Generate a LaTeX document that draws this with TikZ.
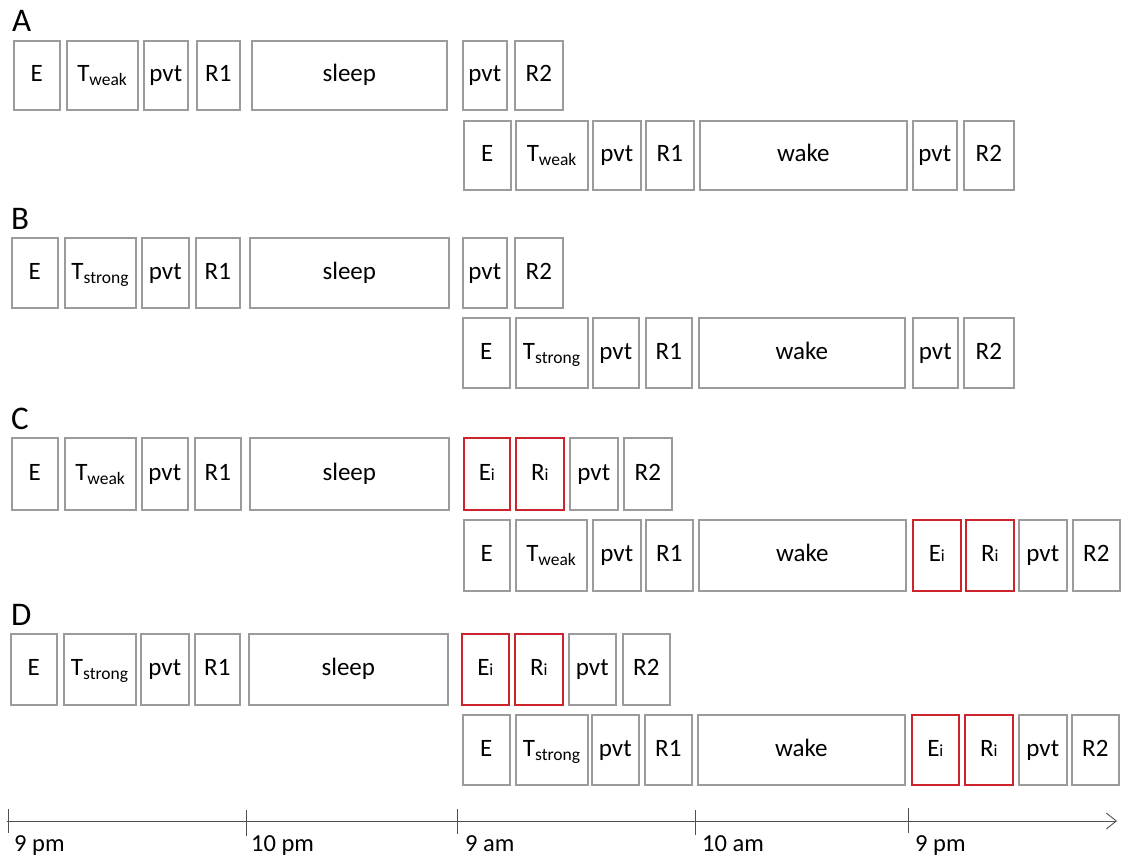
\documentclass[tikz,border=0pt]{standalone}
\usepackage{fontspec}
\setmainfont{Carlito}
\usepackage{tikz}
\usetikzlibrary{arrows.meta}

\definecolor{boxgray}{RGB}{155,155,155}
\definecolor{boxred}{RGB}{205,35,45}
\definecolor{axisgray}{RGB}{80,80,80}

\newcommand{\ii}{{\fontsize{17}{20}\selectfont i}}

\begin{document}
\begin{tikzpicture}[
  x=1pt, y=-1pt,
  blk/.style={draw=boxgray, line width=1.6pt, anchor=north west, inner sep=0pt, text height=17pt, text depth=4pt, font=\fontsize{25}{30}\selectfont},
  iblk/.style={blk, draw=boxred},
  plab/.style={anchor=base west, inner sep=0pt, font=\fontsize{33}{38}\selectfont},
  tlab/.style={anchor=base west, inner sep=0pt, font=\fontsize{24.5}{28}\selectfont},
  axis/.style={draw=axisgray, line width=0.9pt, -{Straight Barb[length=10pt, width=16pt, line width=0.9pt]}},
  tick/.style={draw=axisgray, line width=0.9pt}
]
\useasboundingbox (0,0) rectangle (1121,856);

% A
\node[plab] (labA) at (12,32) {A};
\node[blk, minimum width=46pt, minimum height=69pt] (aE)   at (13,40)  {E};
\node[blk, minimum width=71pt, minimum height=69pt] (aT)   at (66,40)  {T\textsubscript{weak}};
\node[blk, minimum width=44pt, minimum height=69pt] (aP)   at (143,40) {pvt};
\node[blk, minimum width=43pt, minimum height=69pt] (aR)   at (196,40) {R1};
\node[blk, minimum width=195pt, minimum height=69pt] (aS)  at (251,40) {sleep};
\node[blk, minimum width=44pt, minimum height=69pt] (aP2)  at (462,40) {pvt};
\node[blk, minimum width=48pt, minimum height=69pt] (aR2)  at (514,40) {R2};

\node[blk, minimum width=47pt, minimum height=69pt] (awE)  at (463,120) {E};
\node[blk, minimum width=72pt, minimum height=69pt] (awT)  at (515,120) {T\textsubscript{weak}};
\node[blk, minimum width=48pt, minimum height=69pt] (awP)  at (592,120) {pvt};
\node[blk, minimum width=48pt, minimum height=69pt] (awR)  at (645,120) {R1};
\node[blk, minimum width=207pt, minimum height=69pt] (awW) at (699,120) {wake};
\node[blk, minimum width=44pt, minimum height=69pt] (awP2) at (912,120) {pvt};
\node[blk, minimum width=50pt, minimum height=69pt] (awR2) at (963,120) {R2};

% B
\node[plab] (labB) at (11,229) {B};
\node[blk, minimum width=46pt, minimum height=70pt] (bE)   at (11,237)  {E};
\node[blk, minimum width=71pt, minimum height=70pt] (bT)   at (64,237)  {T\textsubscript{strong}};
\node[blk, minimum width=47pt, minimum height=70pt] (bP)   at (141,237) {pvt};
\node[blk, minimum width=44pt, minimum height=70pt] (bR)   at (195,237) {R1};
\node[blk, minimum width=199pt, minimum height=70pt] (bS)  at (249,237) {sleep};
\node[blk, minimum width=44pt, minimum height=70pt] (bP2)  at (462,237) {pvt};
\node[blk, minimum width=48pt, minimum height=70pt] (bR2)  at (514,237) {R2};

\node[blk, minimum width=47pt, minimum height=70pt] (bwE)  at (462,317) {E};
\node[blk, minimum width=72pt, minimum height=70pt] (bwT)  at (515,317) {T\textsubscript{strong}};
\node[blk, minimum width=46pt, minimum height=70pt] (bwP)  at (592,317) {pvt};
\node[blk, minimum width=46pt, minimum height=70pt] (bwR)  at (645,317) {R1};
\node[blk, minimum width=206pt, minimum height=70pt] (bwW) at (698,317) {wake};
\node[blk, minimum width=45pt, minimum height=70pt] (bwP2) at (912,317) {pvt};
\node[blk, minimum width=50pt, minimum height=70pt] (bwR2) at (963,317) {R2};

% C
\node[plab] (labC) at (11,429) {C};
\node[blk, minimum width=46pt, minimum height=72pt] (cE)   at (11,437)  {E};
\node[blk, minimum width=71pt, minimum height=72pt] (cT)   at (64,437)  {T\textsubscript{weak}};
\node[blk, minimum width=46pt, minimum height=72pt] (cP)   at (141,437) {pvt};
\node[blk, minimum width=46pt, minimum height=72pt] (cR)   at (194,437) {R1};
\node[blk, minimum width=199pt, minimum height=72pt] (cS)  at (249,437) {sleep};
\node[iblk, minimum width=46pt, minimum height=72pt] (cEi) at (463,437) {E\ii};
\node[iblk, minimum width=48pt, minimum height=72pt] (cRi) at (515,437) {R\ii};
\node[blk, minimum width=48pt, minimum height=72pt] (cP2)  at (569,437) {pvt};
\node[blk, minimum width=48pt, minimum height=72pt] (cR2)  at (623,437) {R2};

\node[blk, minimum width=46pt, minimum height=71pt] (cwE)  at (463,519) {E};
\node[blk, minimum width=71pt, minimum height=71pt] (cwT)  at (515,519) {T\textsubscript{weak}};
\node[blk, minimum width=48pt, minimum height=71pt] (cwP)  at (592,519) {pvt};
\node[blk, minimum width=47pt, minimum height=71pt] (cwR)  at (645,519) {R1};
\node[blk, minimum width=207pt, minimum height=71pt] (cwW) at (698,519) {wake};
\node[iblk, minimum width=48pt, minimum height=71pt] (cwEi) at (912,519) {E\ii};
\node[iblk, minimum width=48pt, minimum height=71pt] (cwRi) at (965,519) {R\ii};
\node[blk, minimum width=48pt, minimum height=71pt] (cwP2) at (1018,519) {pvt};
\node[blk, minimum width=47pt, minimum height=71pt] (cwR2) at (1072,519) {R2};

% D
\node[plab] (labD) at (11,625) {D};
\node[blk, minimum width=46pt, minimum height=71pt] (dE)   at (10,633)  {E};
\node[blk, minimum width=72pt, minimum height=71pt] (dT)   at (63,633)  {T\textsubscript{strong}};
\node[blk, minimum width=48pt, minimum height=71pt] (dP)   at (140,633) {pvt};
\node[blk, minimum width=45pt, minimum height=71pt] (dR)   at (194,633) {R1};
\node[blk, minimum width=199pt, minimum height=71pt] (dS)  at (248,633) {sleep};
\node[iblk, minimum width=47pt, minimum height=71pt] (dEi) at (461,633) {E\ii};
\node[iblk, minimum width=48pt, minimum height=71pt] (dRi) at (514,633) {R\ii};
\node[blk, minimum width=47pt, minimum height=71pt] (dP2)  at (568,633) {pvt};
\node[blk, minimum width=47pt, minimum height=71pt] (dR2)  at (622,633) {R2};

\node[blk, minimum width=47pt, minimum height=70pt] (dwE)  at (462,714) {E};
\node[blk, minimum width=72pt, minimum height=70pt] (dwT)  at (515,714) {T\textsubscript{strong}};
\node[blk, minimum width=47pt, minimum height=70pt] (dwP)  at (591,714) {pvt};
\node[blk, minimum width=47pt, minimum height=70pt] (dwR)  at (644,714) {R1};
\node[blk, minimum width=207pt, minimum height=70pt] (dwW) at (697,714) {wake};
\node[iblk, minimum width=47pt, minimum height=70pt] (dwEi) at (911,714) {E\ii};
\node[iblk, minimum width=48pt, minimum height=70pt] (dwRi) at (964,714) {R\ii};
\node[blk, minimum width=48pt, minimum height=70pt] (dwP2) at (1018,714) {pvt};
\node[blk, minimum width=47pt, minimum height=70pt] (dwR2) at (1071,714) {R2};

% time axis
\coordinate (ax0) at (7,821);
\coordinate (ax1) at (1117,821);
\draw[axis] (ax0) -- (ax1);
\draw[tick] (8,809) -- (8,833);
\draw[tick] (246,810) -- (246,836);
\draw[tick] (457,809) -- (457,834);
\draw[tick] (695,810) -- (695,835);
\draw[tick] (908,808) -- (908,833);
\node[tlab] (t9pm)  at (14,851)  {9 pm};
\node[tlab] (t10pm) at (251,851) {10 pm};
\node[tlab] (t9am)  at (465,851) {9 am};
\node[tlab] (t10am) at (702,851) {10 am};
\node[tlab] (t9pm2) at (915,851) {9 pm};

\end{tikzpicture}
\end{document}
